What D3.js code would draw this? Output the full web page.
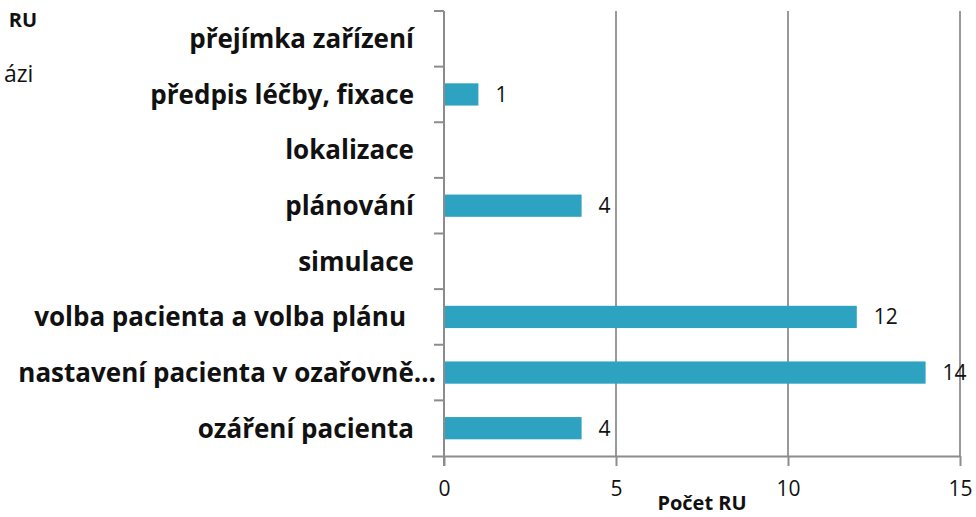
<!DOCTYPE html>
<html>
<head>
<meta charset="utf-8">
<script src="https://cdn.jsdelivr.net/npm/d3@7"></script>
<style>
  body { margin: 0; background: #fff; }
  svg { display: block; font-family: "Open Sans", "Noto Sans", sans-serif; }
</style>
</head>
<body>
<div id="chart"></div>
<script>
// data, top to bottom
const categories = [
  "přejímka zařízení",
  "předpis léčby, fixace",
  "lokalizace",
  "plánování",
  "simulace",
  "volba pacienta a volba plánu",
  "nastavení pacienta v ozařovně…",
  "ozáření pacienta"
];
const values = [0, 1, 0, 4, 0, 12, 14, 4];
const xTicks = [0, 5, 10, 15];
const xTitle = "Počet RU";

const width = 976;
const height = 517;
const margin = { top: 11, right: 16, bottom: 61, left: 444 };

const svg = d3.select("#chart")
  .append("svg")
  .attr("width", width)
  .attr("height", height);

const x = d3.scaleLinear()
  .domain([0, 15])
  .range([margin.left, width - margin.right]);

const y = d3.scaleBand()
  .domain(categories)
  .range([margin.top, height - margin.bottom])
  .paddingInner(0.6)
  .paddingOuter(0.3);

const bandStep = y.step();

// vertical gridlines
svg.append("g")
  .selectAll("line")
  .data(xTicks.slice(1))
  .enter()
  .append("line")
  .attr("x1", d => x(d))
  .attr("x2", d => x(d))
  .attr("y1", margin.top)
  .attr("y2", height - margin.bottom)
  .attr("stroke", "#999")
  .attr("stroke-width", 2);

// bars
const rows = values.map((v, i) => ({ v, c: categories[i] }));

svg.append("g")
  .selectAll("rect")
  .data(rows.filter(d => d.v > 0))
  .enter()
  .append("rect")
  .attr("x", x(0) + 1)
  .attr("y", d => y(d.c))
  .attr("width", d => x(d.v) - x(0) - 1)
  .attr("height", y.bandwidth())
  .attr("fill", "#2ea3c1");

// value labels
svg.append("g")
  .selectAll("text")
  .data(rows.filter(d => d.v > 0))
  .enter()
  .append("text")
  .attr("x", d => x(d.v) + 17)
  .attr("y", d => y(d.c) + y.bandwidth() / 2)
  .attr("dy", "0.36em")
  .attr("font-size", 21)
  .attr("fill", "#111")
  .text(d => d.v);

// x axis
const xAxis = svg.append("g")
  .attr("transform", `translate(0,${height - margin.bottom})`)
  .call(d3.axisBottom(x).tickValues(xTicks).tickSize(10).tickPadding(15));
xAxis.select(".domain")
  .attr("stroke", "#8c8c8c")
  .attr("stroke-width", 2)
  .attr("d", `M${x(0) - 12},0.5H${x(15)}`);
xAxis.selectAll(".tick line").attr("stroke", "#8c8c8c").attr("stroke-width", 2);
xAxis.selectAll(".tick text")
  .attr("font-family", "'Open Sans', 'Noto Sans', sans-serif")
  .attr("font-size", 21)
  .attr("fill", "#111");

// y axis line with boundary ticks
svg.append("line")
  .attr("x1", x(0)).attr("x2", x(0))
  .attr("y1", margin.top).attr("y2", height - margin.bottom + 10)
  .attr("stroke", "#8c8c8c")
  .attr("stroke-width", 2);

svg.append("g")
  .selectAll("line")
  .data(d3.range(categories.length))
  .enter()
  .append("line")
  .attr("x1", x(0) - 10)
  .attr("x2", x(0))
  .attr("y1", i => margin.top + i * bandStep)
  .attr("y2", i => margin.top + i * bandStep)
  .attr("stroke", "#8c8c8c")
  .attr("stroke-width", 2);

// category labels
const labelEnd = { "volba pacienta a volba plánu": 406, "nastavení pacienta v ozařovně…": 436 };
svg.append("g")
  .selectAll("text")
  .data(categories)
  .enter()
  .append("text")
  .attr("x", d => labelEnd[d] || 414)
  .attr("y", d => y(d) + y.bandwidth() / 2)
  .attr("dy", "0.36em")
  .attr("text-anchor", "end")
  .attr("font-size", 26)
  .attr("font-weight", "bold")
  .attr("fill", "#111")
  .text(d => d);

// axis title
svg.append("text")
  .attr("x", (x(0) + x(15)) / 2)
  .attr("y", 510)
  .attr("text-anchor", "middle")
  .attr("font-size", 20)
  .attr("font-weight", "bold")
  .attr("fill", "#111")
  .text(xTitle);

// remnants of texts at the top-left edge
svg.append("text")
  .attr("x", 37).attr("y", 27)
  .attr("text-anchor", "end")
  .attr("font-size", 20)
  .attr("font-weight", "bold")
  .attr("fill", "#111")
  .text("RU");

svg.append("text")
  .attr("x", 4).attr("y", 82)
  .attr("font-size", 23)
  .attr("fill", "#111")
  .text("ázi");
</script>
</body>
</html>
